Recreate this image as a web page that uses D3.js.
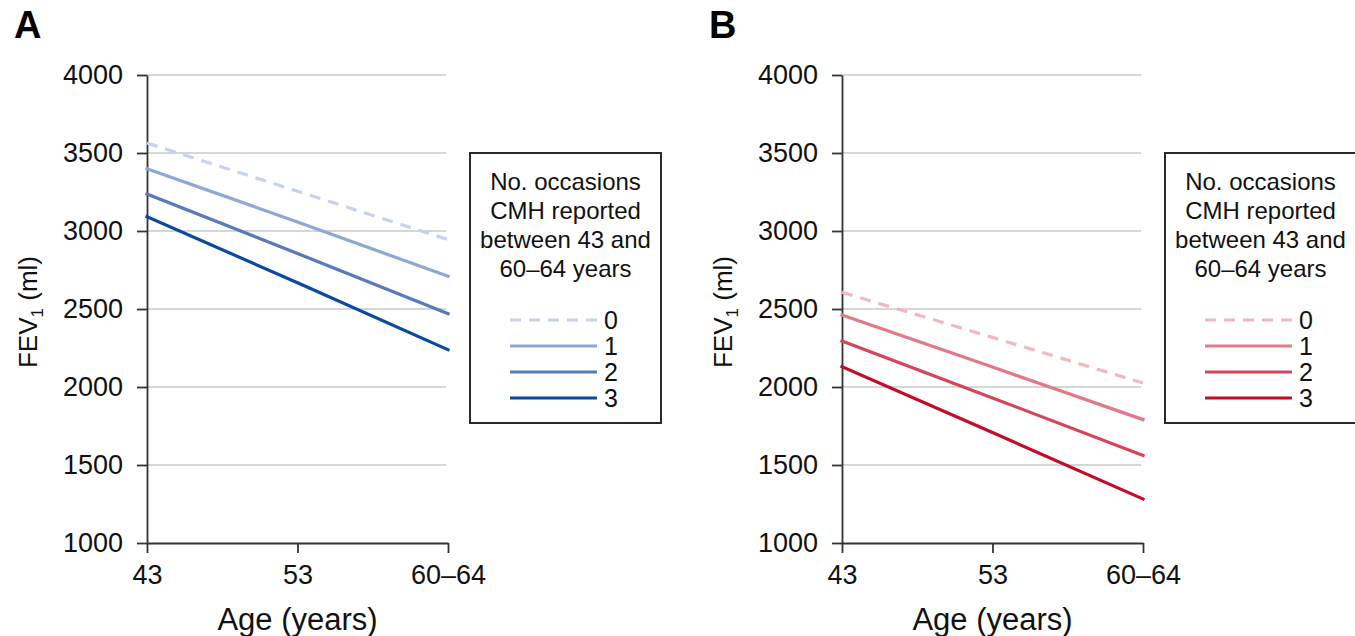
<!DOCTYPE html>
<html>
<head>
<meta charset="utf-8">
<script src="https://cdn.jsdelivr.net/npm/d3@7"></script>
<style>
  html, body { margin: 0; padding: 0; background: #fff; }
  svg { display: block; font-family: "Liberation Sans", Arial, Helvetica, sans-serif; }
  .tick text { fill: #111; }
</style>
</head>
<body>
<div id="chart"></div>
<script>
const ageLabels = ["43", "53", "60–64"];
const yTicks = [1000, 1500, 2000, 2500, 3000, 3500, 4000];
const occasions = ["0", "1", "2", "3"];

// FEV1 (ml) at each age, one row per number of occasions
const panelAValues = [
  [3564, 3255, 2945],
  [3399, 3058, 2710],
  [3237, 2856, 2470],
  [3092, 2668, 2239],
];
const panelBValues = [
  [2607, 2318, 2026],
  [2462, 2128, 1791],
  [2295, 1930, 1562],
  [2130, 1708, 1282],
];

const panelAColors = ["#c7d3ec", "#8ea8d6", "#5779bd", "#0a4a9e"];
const panelBColors = ["#f3b8bf", "#e17a88", "#d5465d", "#c30c28"];

const legendTitle = ["No. occasions", "CMH reported", "between 43 and", "60–64 years"];

const width = 1355;
const height = 636;

const svg = d3.select("#chart").append("svg").attr("width", width).attr("height", height);

function drawPanel(letter, offsetX, values, colors) {
  const left = 147 + offsetX;
  const right = 448 + offsetX;
  const top = 75;
  const bottom = 543;

  const x = d3.scalePoint().domain(ageLabels).range([left, right]);
  const y = d3.scaleLinear().domain([1000, 4000]).range([bottom, top]);

  const g = svg.append("g");

  g.append("text")
    .attr("x", 14 + offsetX)
    .attr("y", 38)
    .attr("font-size", 38)
    .attr("font-weight", "bold")
    .attr("fill", "#000")
    .text(letter);

  // gridlines
  g.append("g")
    .selectAll("line")
    .data(yTicks.filter((d) => d > 1000))
    .join("line")
    .attr("x1", left)
    .attr("x2", right - 2)
    .attr("y1", (d) => y(d))
    .attr("y2", (d) => y(d))
    .attr("stroke", "#c8c8c8")
    .attr("stroke-width", 1.6);

  g.append("g")
    .attr("transform", `translate(${left}, 0)`)
    .call(d3.axisLeft(y).tickValues(yTicks).tickFormat(d3.format("d")).tickSize(10).tickPadding(14).tickSizeOuter(0))
    .call((axis) => axis.selectAll("line, path").attr("stroke", "#333").attr("stroke-width", 1.8))
    .call((axis) => axis.selectAll("text").attr("font-size", 27).attr("font-family", null));

  g.append("g")
    .attr("transform", `translate(0, ${bottom})`)
    .call(d3.axisBottom(x).tickSize(10).tickPadding(12).tickSizeOuter(0))
    .call((axis) => axis.selectAll("line, path").attr("stroke", "#333").attr("stroke-width", 1.8))
    .call((axis) => axis.selectAll("text").attr("font-size", 27).attr("font-family", null));

  g.append("text")
    .attr("x", (left + right) / 2)
    .attr("y", 630)
    .attr("text-anchor", "middle")
    .attr("font-size", 31)
    .attr("fill", "#111")
    .text("Age (years)");

  const yLabel = g.append("text")
    .attr("transform", `translate(${37 + offsetX}, ${312}) rotate(-90)`)
    .attr("text-anchor", "middle")
    .attr("font-size", 26)
    .attr("fill", "#111");
  yLabel.append("tspan").text("FEV");
  yLabel.append("tspan").attr("font-size", 17).attr("dy", 6).text("1");
  yLabel.append("tspan").attr("dy", -6).text(" (ml)");

  const line = d3.line()
    .x((d, i) => x(ageLabels[i]))
    .y((d) => y(d));

  g.append("g")
    .selectAll("path")
    .data(values)
    .join("path")
    .attr("d", line)
    .attr("fill", "none")
    .attr("stroke", (d, i) => colors[i])
    .attr("stroke-width", 3.2)
    .attr("stroke-linecap", (d, i) => (i === 0 ? "butt" : "square"))
    .attr("stroke-dasharray", (d, i) => (i === 0 ? "11 8" : null));

  // legend
  const lx = 470 + offsetX;
  const legend = g.append("g");
  legend.append("rect")
    .attr("x", lx)
    .attr("y", 153)
    .attr("width", 191)
    .attr("height", 270)
    .attr("fill", "#fff")
    .attr("stroke", "#2a2a2a")
    .attr("stroke-width", 2);

  legend.selectAll("text.title")
    .data(legendTitle)
    .join("text")
    .attr("class", "title")
    .attr("x", lx + 95.5)
    .attr("y", (d, i) => 190 + i * 29)
    .attr("text-anchor", "middle")
    .attr("font-size", 24)
    .attr("fill", "#111")
    .text((d) => d);

  const item = legend.selectAll("g.item")
    .data(occasions)
    .join("g")
    .attr("class", "item")
    .attr("transform", (d, i) => `translate(0, ${320 + i * 26})`);

  item.append("line")
    .attr("x1", lx + 40)
    .attr("x2", lx + 127)
    .attr("stroke", (d, i) => colors[i])
    .attr("stroke-width", 3.2)
    .attr("stroke-dasharray", (d, i) => (i === 0 ? "11 8" : null));

  item.append("text")
    .attr("x", lx + 134)
    .attr("y", 9)
    .attr("font-size", 25)
    .attr("fill", "#111")
    .text((d) => d);
}

drawPanel("A", 0, panelAValues, panelAColors);
drawPanel("B", 695, panelBValues, panelBColors);
</script>
</body>
</html>
